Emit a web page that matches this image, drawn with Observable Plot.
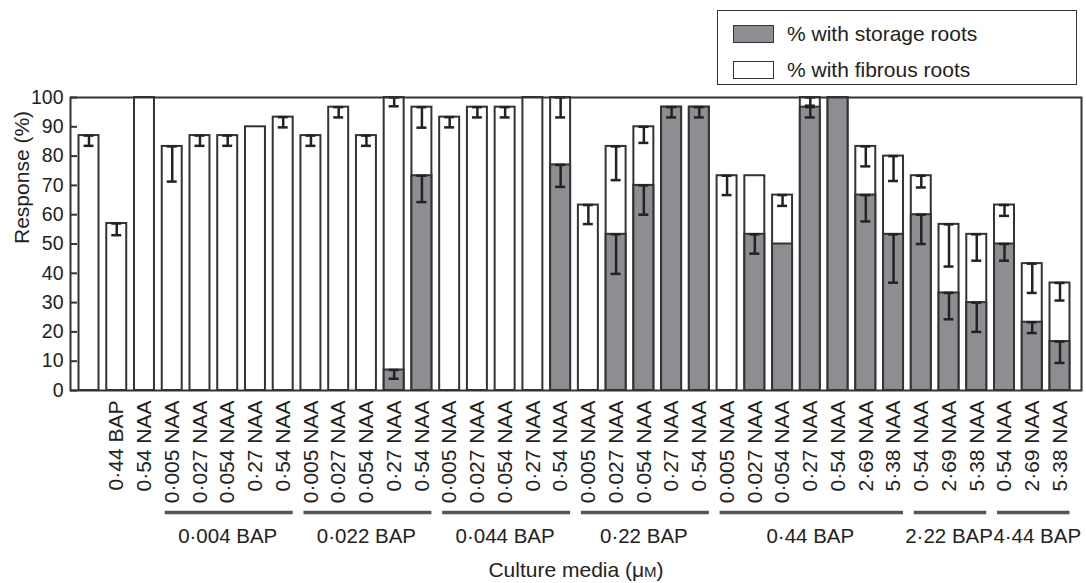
<!DOCTYPE html>
<html><head><meta charset="utf-8">
<script src="https://cdn.jsdelivr.net/npm/d3@7"></script>
<script src="https://cdn.jsdelivr.net/npm/@observablehq/plot@0.6"></script>
<style>
body{margin:0;background:#fff;font-family:"Liberation Sans",Arial,sans-serif;}
#wrap{position:relative;width:1086px;height:583px;overflow:hidden;}
#legend{position:absolute;left:717px;top:10px;width:358px;height:73px;border:1.5px solid #333;background:#fff;}
.row{position:absolute;left:15px;height:24px;display:flex;align-items:center;font-size:21px;color:#222;}
.sw{width:41px;height:18px;border:1.5px solid #333;margin-right:13px;box-sizing:border-box;}
</style></head>
<body>
<div id="wrap"><div id="chart"></div>
<div id="legend">
<div class="row" style="top:11px"><div class="sw" style="background:#8d8e92"></div>% with storage roots</div>
<div class="row" style="top:47px"><div class="sw" style="background:#fff"></div>% with fibrous roots</div>
</div></div>
<script>
const labels = ["", "0·44 BAP", "0·54 NAA",
  "0·005 NAA","0·027 NAA","0·054 NAA","0·27 NAA","0·54 NAA",
  "0·005 NAA","0·027 NAA","0·054 NAA","0·27 NAA","0·54 NAA",
  "0·005 NAA","0·027 NAA","0·054 NAA","0·27 NAA","0·54 NAA",
  "0·005 NAA","0·027 NAA","0·054 NAA","0·27 NAA","0·54 NAA",
  "0·005 NAA","0·027 NAA","0·054 NAA","0·27 NAA","0·54 NAA","2·69 NAA","5·38 NAA",
  "0·54 NAA","2·69 NAA","5·38 NAA",
  "0·54 NAA","2·69 NAA","5·38 NAA"];
// total response (% with roots) and its error
const total = [87,57,100, 83.3,87,87,90,93.3, 87,96.7,87,100,96.7, 93.3,96.7,96.7,100,100,
  63.3,83.3,90,96.7,96.7, 73.3,73.3,66.7,100,100,83.3,80, 73.3,56.7,53.3, 63.3,43.3,36.7];
const totalErr = [3.5,4,0, 12,3.5,3.5,0,3.5, 3.5,3.5,3.5,3,7, 3.5,3.5,3.5,0,6.8,
  6.5,11.5,5.5,0,0, 6.6,0,3.7,2.8,0,6.8,8.5, 4,14.4,9, 3.7,10,6];
// % with storage roots and its error
const storage = [0,0,0, 0,0,0,0,0, 0,0,0,7,73.3, 0,0,0,0,77,
  0,53.3,70,96.7,96.7, 0,53.3,50,96.7,100,66.7,53.3, 60,33.3,30, 50,23.3,16.7];
const storageErr = [0,0,0, 0,0,0,0,0, 0,0,0,3,9, 0,0,0,0,7.5,
  0,13.5,10,3.5,3.5, 0,6.6,0,3.5,0,9,16.5, 10,9,10, 5.7,3.7,7.3];
const groupNames = ["0·004 BAP","0·022 BAP","0·044 BAP","0·22 BAP","0·44 BAP","2·22 BAP","4·44 BAP"];
const groupStart = [3,8,13,18,23,30,33];
const groupEnd = [7,12,17,22,29,32,35];
const yTicks = [0,10,20,30,40,50,60,70,80,90,100];

const rows = labels.map((l,i)=>({i, label:l, total:total[i], totalErr:totalErr[i], storage:storage[i], storageErr:storageErr[i]}));
const errs = [];
rows.forEach(r=>{
  if (r.totalErr>0) errs.push({i:r.i, hi:r.total, lo:r.total-r.totalErr});
  if (r.storageErr>0) errs.push({i:r.i, hi:r.storage, lo:r.storage-r.storageErr});
});
const groups = groupNames.map((g,k)=>({name:g, s:groupStart[k], e:groupEnd[k], m:Math.round((groupStart[k]+groupEnd[k])/2)}));

const W=1086, H=583, ML=70, MR=5, MT=97, MB=193;
const ink="#333";
const plot = Plot.plot({
  width: W, height: H,
  marginLeft: ML, marginRight: MR, marginTop: MT, marginBottom: MB,
  style: {fontFamily: '"Liberation Sans", Arial, sans-serif', fontSize: "21px", color: "#222", background: "#fff"},
  x: {domain: d3.range(labels.length), paddingInner: 0.28, paddingOuter: 0.307, round: false, range: [ML, W-MR-3]},
  y: {domain: [0,100]},
  marks: [
    Plot.ruleY(yTicks, {y: d=>d, stroke: ink, strokeWidth: 2, insetRight: W-ML-MR-7}),
    Plot.barY(rows, {x:"i", y:"total", fill:"#fff", stroke: ink, strokeWidth: 2}),
    Plot.barY(rows.filter(r=>r.storage>0), {x:"i", y:"storage", fill:"#8d8e92", stroke: ink, strokeWidth: 2}),
    Plot.ruleX(errs, {x:"i", y1:"lo", y2:"hi", stroke:"#222", strokeWidth: 2.5}),
    Plot.tickY(errs, {x:"i", y:"lo", stroke:"#222", strokeWidth: 2.5, insetLeft: 5, insetRight: 5}),
    Plot.tickY(errs, {x:"i", y:"hi", stroke:"#222", strokeWidth: 2.5, insetLeft: 5, insetRight: 5}),
    Plot.frame({stroke: ink, strokeWidth: 2}),
    Plot.axisY(yTicks, {tickSize: 0, tickPadding: 7, fontSize: 19.5, label: null}),
    Plot.axisX({tickRotate: -90, tickSize: 0, tickPadding: 10, tickFormat: i=>labels[i], fontSize: 21, label: null}),
    Plot.ruleY(groups, {x1:"s", x2:"e", y: ()=>0, dy: 122, stroke:"#555", strokeWidth: 3.5, insetLeft: 3}),
    Plot.text(groups.slice(0,-1), {x:"m", y: ()=>0, dy: 146, text:"name", fontSize: 20.5, fill:"#222"}),
    Plot.text(groups.slice(-1), {x:"m", y: ()=>0, dy: 146, dx: 5, text:"name", fontSize: 20.5, fill:"#222"}),
    Plot.text(["Response (%)"], {frameAnchor:"left", dx: -48, rotate: -90, fontSize: 21, fill:"#222"}),
    Plot.text(["Culture media (μM)"], {frameAnchor:"bottom", dy: 186, fontSize: 21, fill:"#222"})
  ]
});
document.getElementById("chart").appendChild(plot);
// render the unit in small caps
d3.select(plot).selectAll("text").each(function(){
  const t = d3.select(this);
  if (this.textContent === "Culture media (μM)") {
    t.text("");
    t.append("tspan").text("Culture media (μ");
    t.append("tspan").attr("font-size","15px").text("M");
    t.append("tspan").text(")");
  }
});
</script>
</body></html>
